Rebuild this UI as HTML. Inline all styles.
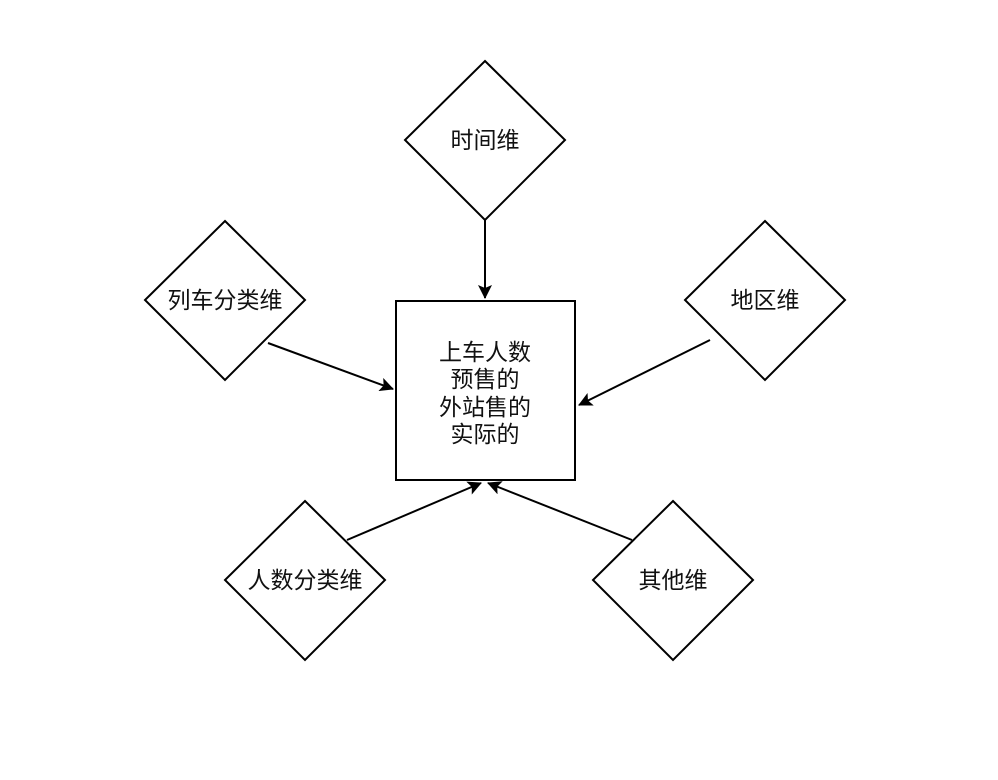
<!DOCTYPE html>
<html><head><meta charset="utf-8"><style>
html,body{margin:0;padding:0;background:#fff;}
svg{display:block;}
text{font-family:"Liberation Sans","Noto Sans CJK SC",sans-serif;font-size:23px;fill:#111;text-anchor:middle;}
</style></head><body>
<svg width="998" height="780" viewBox="0 0 998 780" xmlns="http://www.w3.org/2000/svg">
<defs><marker id="a" markerWidth="14" markerHeight="14" refX="13" refY="7" orient="auto" markerUnits="userSpaceOnUse"><path d="M0,0 L14,7 L0,14 L3,7 Z" fill="#000"/></marker></defs>
<g fill="#fff" stroke="#000" stroke-width="2">
<polygon points="485,61 565,140 485,220 405,140"/>
<polygon points="225,221 305,300 225,380 145,300"/>
<polygon points="765,221 845,300 765,380 685,300"/>
<polygon points="305,501 385,580 305,660 225,580"/>
<polygon points="673,501 753,580 673,660 593,580"/>
<rect x="396" y="301" width="179" height="179"/>
</g>
<g stroke="#000" stroke-width="2" fill="none">
<line x1="485" y1="220" x2="485" y2="298" marker-end="url(#a)"/>
<line x1="268" y1="343" x2="393" y2="389" marker-end="url(#a)"/>
<line x1="710" y1="340" x2="579" y2="405" marker-end="url(#a)"/>
<line x1="347" y1="540" x2="481" y2="483" marker-end="url(#a)"/>
<line x1="632" y1="540" x2="488" y2="483" marker-end="url(#a)"/>
</g>
<text x="485" y="148">时间维</text>
<text x="225" y="308">列车分类维</text>
<text x="765" y="308">地区维</text>
<text x="305" y="588">人数分类维</text>
<text x="673" y="588">其他维</text>
<text x="485" y="360">上车人数</text>
<text x="485" y="387">预售的</text>
<text x="485" y="415">外站售的</text>
<text x="485" y="442">实际的</text>
</svg>
</body></html>
